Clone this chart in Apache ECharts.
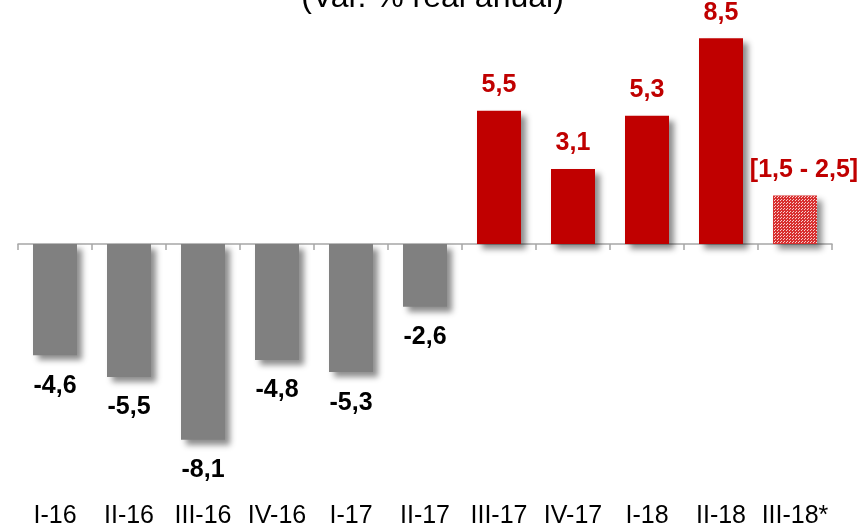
<!DOCTYPE html>
<html>
<head>
<meta charset="utf-8">
<script src="https://cdn.jsdelivr.net/npm/echarts@6/dist/echarts.min.js"></script>
<style>
  html, body { margin: 0; padding: 0; background: #fff; }
  #chart { width: 865px; height: 526px; }
</style>
</head>
<body>
<div id="chart"></div>
<script>
const categories = ['I-16', 'II-16', 'III-16', 'IV-16', 'I-17', 'II-17', 'III-17', 'IV-17', 'I-18', 'II-18', 'III-18*']
const values = [-4.6, -5.5, -8.1, -4.8, -5.3, -2.6, 5.5, 3.1, 5.3, 8.5, 2.0]
const valueLabels = ['-4,6', '-5,5', '-8,1', '-4,8', '-5,3', '-2,6', '5,5', '3,1', '5,3', '8,5', '[1,5 - 2,5]']
const projected = [false, false, false, false, false, false, false, false, false, false, true]

const FONT = '"Liberation Sans", Arial, sans-serif'
const RED = '#C00000'
const GRAY = '#808080'

// checkered fill for projected bar
function checker() {
  const c = document.createElement('canvas')
  c.width = 3
  c.height = 3
  const ctx = c.getContext('2d')
  ctx.fillStyle = '#D83030'
  ctx.fillRect(0, 0, 3, 3)
  ctx.fillStyle = '#F8D0D0'
  ctx.fillRect(1, 1, 1, 1)
  ctx.fillRect(0, 2, 1, 1)
  return c
}

const chart = echarts.init(document.getElementById('chart'))

const data = values.map((v, i) => {
  const neg = v < 0
  return {
    value: v,
    itemStyle: {
      color: projected[i] ? { image: checker(), repeat: 'repeat' } : (neg ? GRAY : RED)
    },
    label: {
      position: neg ? 'bottom' : 'top',
      color: neg ? '#000' : RED,
      distance: neg ? 18 : 13,
      offset: projected[i] ? [9, 0] : [0, 0]
    }
  }
})

const option = {
  animation: false,
  title: {
    text: '(Var. % real anual)',
    left: 'center',
    top: -23,
    textStyle: { fontFamily: FONT, fontSize: 32, fontWeight: 'normal', color: '#000' }
  },
  grid: { left: 18, right: 33, top: 2, bottom: 16, outerBoundsMode: 'none', containLabel: false },
  xAxis: [
    {
      type: 'category',
      data: categories,
      axisLine: { onZero: true, lineStyle: { color: '#A6A6A6', width: 1.5 } },
      axisTick: { show: true, length: 6, lineStyle: { color: '#A6A6A6', width: 1.5 } },
      axisLabel: { show: false }
    },
    {
      type: 'category',
      data: categories,
      position: 'bottom',
      axisLine: { show: false },
      axisTick: { show: false },
      axisLabel: { interval: 0, fontFamily: FONT, fontSize: 25, color: '#000', margin: -6 }
    }
  ],
  yAxis: {
    type: 'value',
    min: -11,
    max: 10,
    show: false,
    splitLine: { show: false }
  },
  series: [
    {
      type: 'bar',
      barWidth: 44,
      data: data,
      itemStyle: {
        shadowColor: 'rgba(0,0,0,0.45)',
        shadowBlur: 6,
        shadowOffsetX: 5,
        shadowOffsetY: 5
      },
      label: {
        show: true,
        fontFamily: FONT,
        fontSize: 25,
        fontWeight: 'bold',
        formatter: p => valueLabels[p.dataIndex]
      }
    }
  ]
}

chart.setOption(option)
</script>
</body>
</html>
